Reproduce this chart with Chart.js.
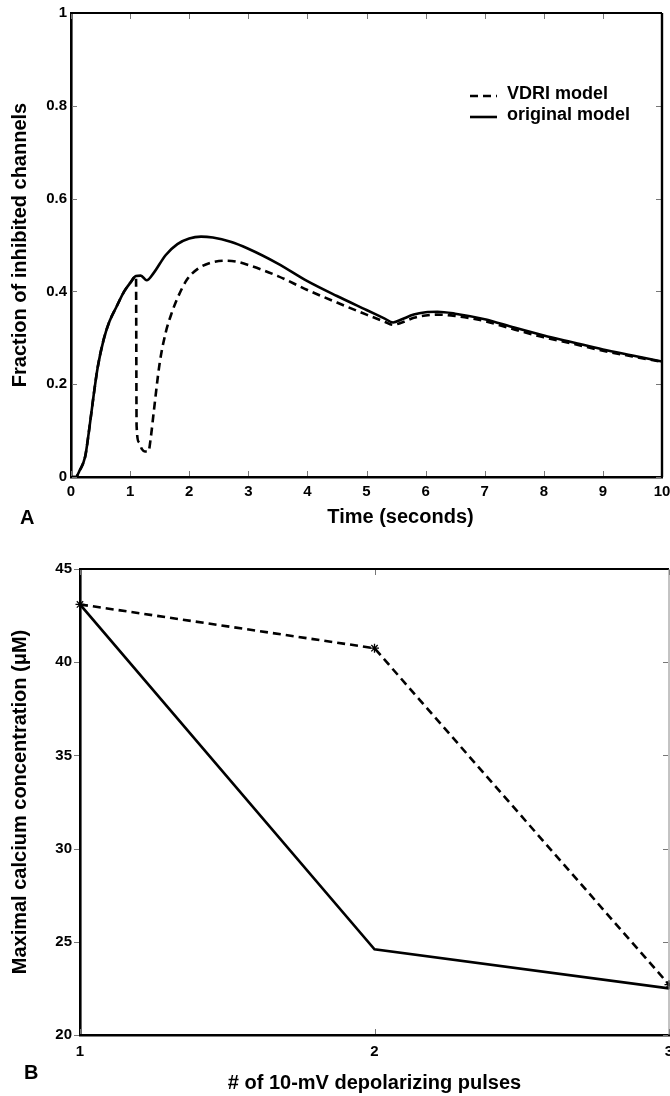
<!DOCTYPE html>
<html><head><meta charset="utf-8">
<script src="https://cdn.jsdelivr.net/npm/chart.js@4.4.0/dist/chart.umd.min.js"></script>
<style>
html,body{margin:0;padding:0;background:#fff;width:670px;height:1096px;overflow:hidden;}
#cA{position:absolute;left:0;top:0;}
#cB{position:absolute;left:0;top:540px;}
.lab{position:absolute;font-family:"Liberation Sans",Arial,sans-serif;font-weight:bold;font-size:20px;line-height:normal;color:#000;}
</style></head><body>
<canvas id="cA" width="670" height="540"></canvas>
<canvas id="cB" width="670" height="556"></canvas>
<div class="lab" style="left:20px;top:506px">A</div>
<div class="lab" style="left:24px;top:1061px">B</div>
<script>
// ---- Panel A data ----
const timeOrig = [0,0.08,0.15,0.24,0.3,0.38,0.45,0.55,0.65,0.77,0.9,1.0,1.1,1.18,1.28,1.4,1.6,1.8,2.0,2.2,2.4,2.7,3.0,3.5,4.0,4.5,5.0,5.3,5.45,5.6,5.8,6.0,6.2,6.5,7.0,7.5,8.0,8.5,9.0,9.5,10];
const fracOrig = [0,0,0.015,0.044,0.095,0.173,0.235,0.295,0.335,0.367,0.4,0.418,0.433,0.434,0.424,0.44,0.478,0.502,0.514,0.518,0.516,0.507,0.492,0.46,0.422,0.39,0.36,0.342,0.333,0.34,0.35,0.355,0.356,0.352,0.34,0.322,0.305,0.29,0.275,0.262,0.249];
const timeVdri = [0,0.08,0.15,0.24,0.3,0.38,0.45,0.55,0.65,0.77,0.9,1.0,1.1,1.11,1.15,1.2,1.25,1.31,1.35,1.4,1.5,1.6,1.7,1.8,1.96,2.15,2.35,2.6,2.8,3.0,3.5,4.0,4.5,5.0,5.3,5.45,5.6,5.8,6.0,6.2,6.5,7.0,7.5,8.0,8.5,9.0,9.5,10];
const fracVdri = [0,0,0.015,0.044,0.095,0.173,0.235,0.295,0.335,0.367,0.4,0.418,0.433,0.11,0.075,0.06,0.055,0.055,0.085,0.14,0.245,0.31,0.352,0.385,0.425,0.449,0.461,0.466,0.464,0.457,0.433,0.403,0.376,0.35,0.335,0.328,0.333,0.343,0.348,0.35,0.347,0.336,0.318,0.301,0.287,0.272,0.26,0.248];
const seriesNames = ['VDRI model','original model'];
const axisTitlesA = ['Time (seconds)','Fraction of inhibited channels'];

// ---- Panel B data ----
const pulses = [1,2,3];
const caVdri = [43.1,40.75,22.7];
const caOrig = [43.1,24.6,22.5];
const axisTitlesB = ['# of 10-mV depolarizing pulses','Maximal calcium concentration (\u03bcM)'];

const FONT = '"Liberation Sans", Arial, sans-serif';
const toPts = (xs, ys) => xs.map((x,i)=>({x:x,y:ys[i]}));

const framePlugin = {
  id:'frame',
  afterDatasetsDraw(chart, args, o){
    const {ctx, chartArea:a, scales:{x,y}} = chart;
    ctx.save();
    const L = 5;
    const ln = (x1,y1,x2,y2)=>{ctx.beginPath();ctx.moveTo(x1,y1);ctx.lineTo(x2,y2);ctx.stroke();};
    ctx.strokeStyle = '#777'; ctx.lineWidth = 1;
    x.ticks.forEach(t=>{const p=Math.round(x.getPixelForValue(t.value))+0.5; ln(p,a.bottom-1,p,a.bottom-1-L); ln(p,a.top+1,p,a.top+1+L);});
    y.ticks.forEach(t=>{const p=Math.round(y.getPixelForValue(t.value))+0.5;
      if(o.leftOut){ln(a.left-1,p,a.left-1-L,p);} else {ln(a.left+1,p,a.left+1+L,p);}
      ln(a.right-1,p,a.right-1-L,p);});
    ctx.strokeStyle = '#000'; ctx.lineWidth = o.topWidth;
    ln(a.left,a.top,a.right,a.top);
    ctx.strokeStyle = o.rightColor; ctx.lineWidth = o.rightWidth;
    ln(a.right,a.top,a.right,a.bottom);
    ctx.restore();
  }
};

// axis titles placed at given offsets from the chart area
const titlePlugin = {
  id:'axisTitles',
  afterDraw(chart, args, o){
    const {ctx, chartArea:a} = chart;
    ctx.save();
    ctx.fillStyle = '#000'; ctx.font = o.font; ctx.textAlign='center'; ctx.textBaseline='middle';
    ctx.fillText(o.xText, (a.left+a.right)/2 + o.xShift, o.xY);
    ctx.translate(o.yX, (a.top+a.bottom)/2 + o.yShift);
    ctx.rotate(-Math.PI/2);
    ctx.fillText(o.yText, 0, 0);
    ctx.restore();
  }
};

const insideLegend = {
  id:'insideLegend',
  afterDraw(chart, args, o){
    if(!o || !o.show) return;
    const ctx = chart.ctx;
    chart.data.datasets.forEach((ds,i)=>{
      const yy = o.y + i*o.dy;
      ctx.save();
      ctx.strokeStyle = ds.borderColor; ctx.lineWidth = ds.borderWidth; ctx.setLineDash(ds.borderDash||[]);
      ctx.beginPath(); ctx.moveTo(o.x, yy+o.lineOff); ctx.lineTo(o.x+o.len, yy+o.lineOff); ctx.stroke();
      ctx.setLineDash([]);
      ctx.fillStyle = '#000'; ctx.font = o.font; ctx.textBaseline = 'middle'; ctx.textAlign='left';
      ctx.fillText(ds.label, o.x+o.len+o.gap, yy);
      ctx.restore();
    });
  }
};

const tickFmt = v => String(Number(v.toFixed(2)));

// ---- Chart A ----
new Chart(document.getElementById('cA'), {
  type:'line',
  data:{datasets:[
    {label:seriesNames[0], data:toPts(timeVdri,fracVdri), borderColor:'#000', borderWidth:2.6, borderDash:[8,5], pointRadius:0, cubicInterpolationMode:'monotone', fill:false},
    {label:seriesNames[1], data:toPts(timeOrig,fracOrig), borderColor:'#000', borderWidth:2.6, pointRadius:0, cubicInterpolationMode:'monotone', fill:false}
  ]},
  options:{
    responsive:false, animation:false, events:[],
    layout:{autoPadding:false, padding:{top:13,right:8,left:0,bottom:0}},
    plugins:{legend:{display:false}, tooltip:{enabled:false},
      frame:{topWidth:2.2, rightColor:'#000', rightWidth:2.4, leftOut:false},
      axisTitles:{font:'bold 20px '+FONT, xText:axisTitlesA[0], xShift:34, xY:517, yText:axisTitlesA[1], yX:20, yShift:0},
      insideLegend:{show:true, x:470, y:94, dy:21, len:27, gap:10, lineOff:2, font:'bold 18px '+FONT}},
    scales:{
      x:{type:'linear', min:0, max:10,
        ticks:{stepSize:1, padding:6, color:'#000', font:{family:FONT, size:15, weight:'bold'}, maxRotation:0, callback:tickFmt},
        grid:{display:false, drawTicks:false},
        border:{display:true, color:'#000', width:2.6},
        title:{display:false},
        afterFit(s){ s.height = 63; s.paddingLeft=0; s.paddingRight=0; }
      },
      y:{type:'linear', min:0, max:1,
        ticks:{stepSize:0.2, padding:4, color:'#000', font:{family:FONT, size:15, weight:'bold'}, callback:tickFmt},
        grid:{display:false, drawTicks:false},
        border:{display:true, color:'#000', width:2.6},
        title:{display:false},
        afterFit(s){ s.width = 71; s.paddingTop=0; s.paddingBottom=0; }
      }
    }
  },
  plugins:[framePlugin, titlePlugin, insideLegend]
});

// ---- Chart B ----
new Chart(document.getElementById('cB'), {
  type:'line',
  data:{datasets:[
    {label:seriesNames[0], data:toPts(pulses,caVdri), borderColor:'#000', backgroundColor:'#000', borderWidth:2.6, borderDash:[8,5], pointStyle:'star', pointRadius:4.5, pointBorderWidth:1.3, pointBorderColor:'#000', tension:0, fill:false, clip:false},
    {label:seriesNames[1], data:toPts(pulses,caOrig), borderColor:'#000', borderWidth:2.6, pointRadius:0, tension:0, fill:false}
  ]},
  options:{
    responsive:false, animation:false, events:[],
    layout:{autoPadding:false, padding:{top:29,right:1,left:0,bottom:0}},
    plugins:{legend:{display:false}, tooltip:{enabled:false},
      frame:{topWidth:2.2, rightColor:'#888', rightWidth:1, leftOut:true},
      axisTitles:{font:'bold 20px '+FONT, xText:axisTitlesB[0], xShift:0, xY:543, yText:axisTitlesB[1], yX:20, yShift:0},
      insideLegend:{show:false}},
    scales:{
      x:{type:'linear', min:1, max:3,
        ticks:{stepSize:1, padding:8, color:'#000', font:{family:FONT, size:15, weight:'bold'}, maxRotation:0, callback:tickFmt},
        grid:{display:false, drawTicks:false},
        border:{display:true, color:'#000', width:2.6},
        title:{display:false},
        afterFit(s){ s.height = 61; s.paddingLeft=0; s.paddingRight=0; }
      },
      y:{type:'linear', min:20, max:45,
        ticks:{stepSize:5, padding:8, color:'#000', font:{family:FONT, size:15, weight:'bold'}, callback:tickFmt},
        grid:{display:false, drawTicks:false},
        border:{display:true, color:'#000', width:2.6},
        title:{display:false},
        afterFit(s){ s.width = 80; s.paddingTop=0; s.paddingBottom=0; }
      }
    }
  },
  plugins:[framePlugin, titlePlugin, insideLegend]
});
</script>
</body></html>
